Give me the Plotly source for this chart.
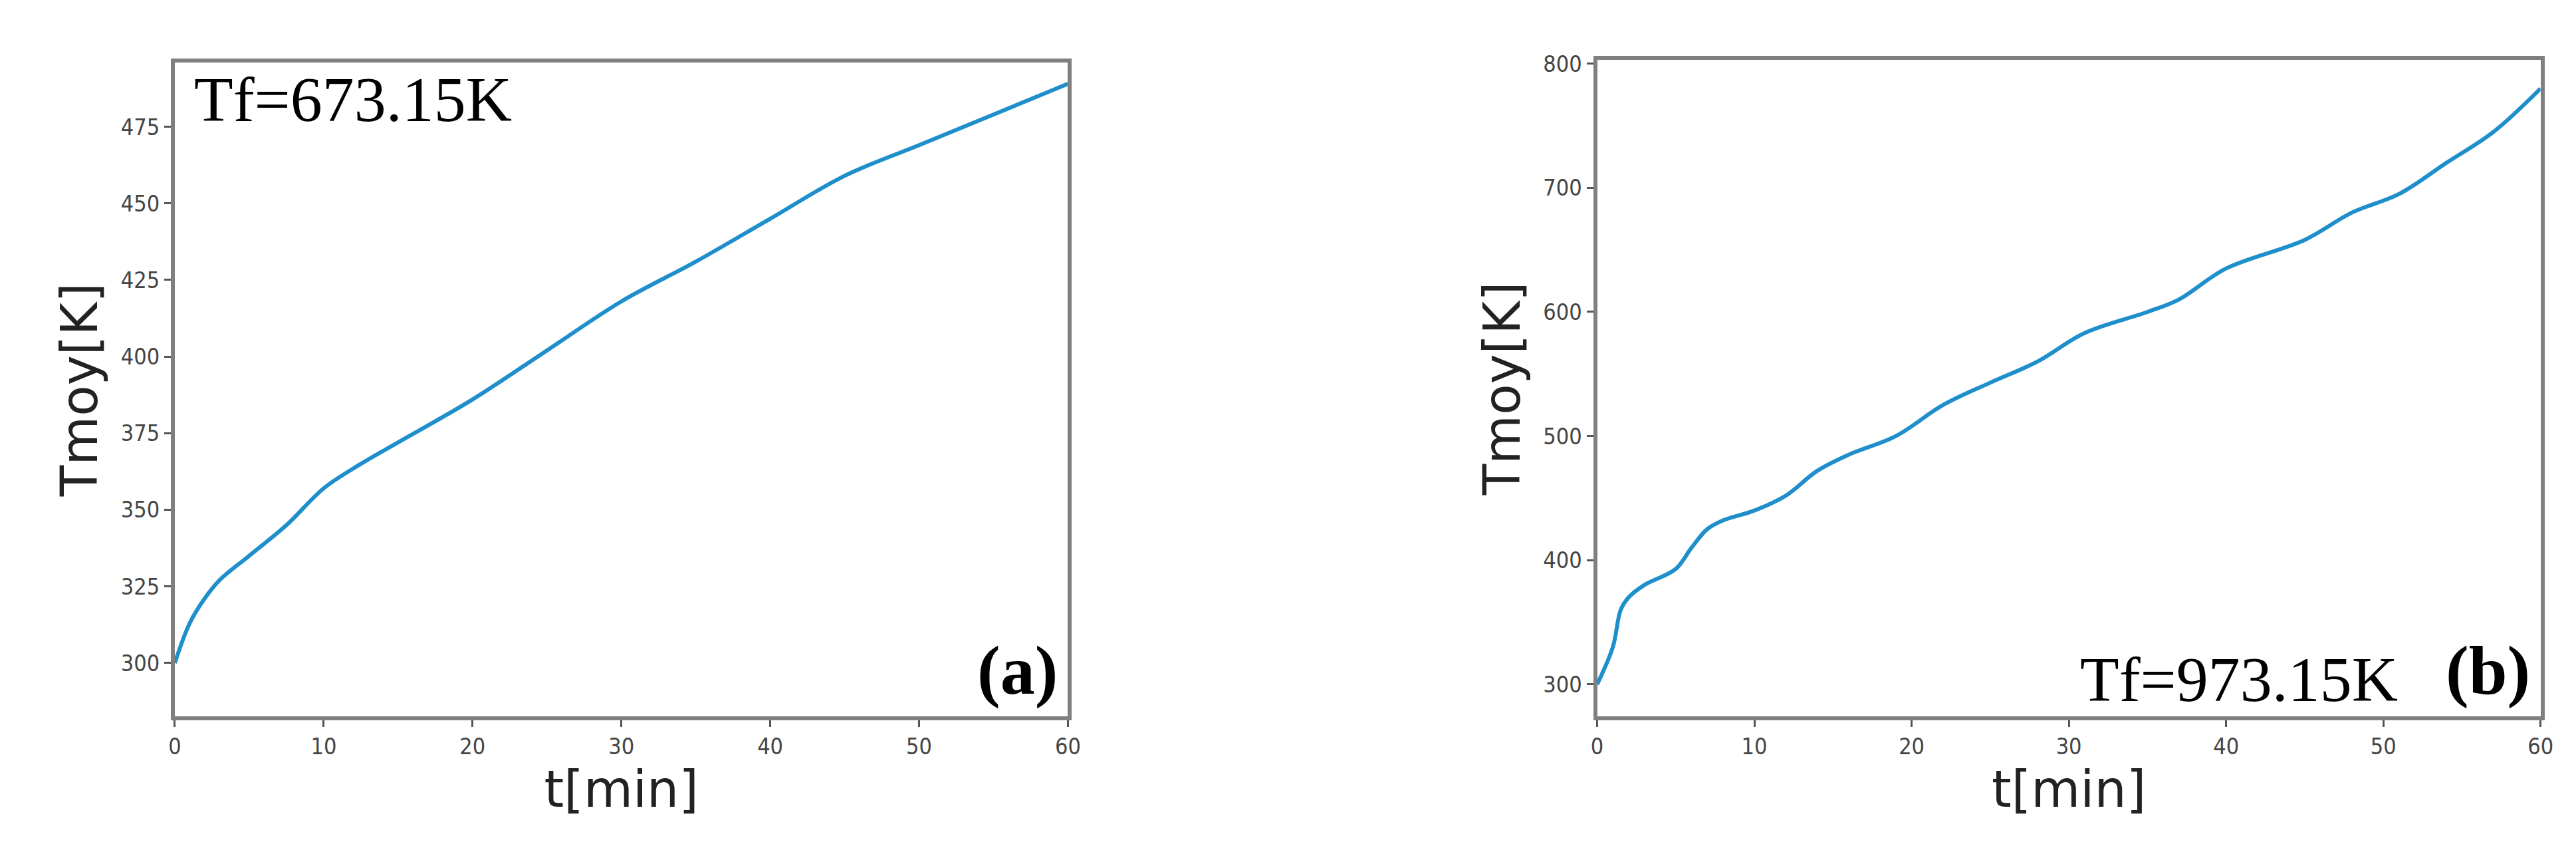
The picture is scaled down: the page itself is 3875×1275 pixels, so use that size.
import plotly.graph_objs as go
from plotly.subplots import make_subplots

# panel (a) Tf=673.15K
t_a = [0, 1, 2, 3, 5, 7.5, 10, 12.5, 15, 20, 25, 30, 35, 40, 45, 50, 55, 60]
T_a = [300, 313, 321, 327, 335, 345, 357, 365, 372, 386, 402, 418, 431, 445, 459, 469, 479, 489]

# panel (b) Tf=973.15K
t_b = [0, 1, 1.5, 2, 3, 5, 6, 7, 8, 10, 12, 14, 16, 19, 22, 25, 28, 31, 35, 37, 40, 45, 48, 51, 54, 57, 60]
T_b = [300, 330, 360, 370, 380, 393, 410, 425, 432, 440, 452, 472, 485, 500, 525, 543, 560, 583, 600, 610, 635, 658, 680, 695, 720, 745, 780]

a_ticks = [300, 325, 350, 375, 400, 425, 450, 475]
b_ticks = [300, 400, 500, 600, 700, 800]
x_ticks = [0, 10, 20, 30, 40, 50, 60]

fig = make_subplots(rows=1, cols=2)
fig.add_trace(go.Scatter(x=t_a, y=T_a, mode="lines", line=dict(color="#1f8fcc", width=6, shape="spline")), 1, 1)
fig.add_trace(go.Scatter(x=t_b, y=T_b, mode="lines", line=dict(color="#1f8fcc", width=6, shape="spline")), 1, 2)

axis_style = dict(showline=True, mirror=True, linecolor="#808080", linewidth=6,
                  ticks="outside", ticklen=10, tickwidth=3, tickcolor="#555",
                  showgrid=False, zeroline=False,
                  tickfont=dict(family="DejaVu Sans Condensed", size=34, color="#444"),
                  title_font=dict(family="DejaVu Sans", size=76, color="#222"))

fig.update_layout(
    width=3875, height=1275, showlegend=False,
    plot_bgcolor="white", paper_bgcolor="white",
    margin=dict(l=0, r=0, t=0, b=0),
    xaxis=dict(domain=[0.0637, 0.413], range=[0, 60], tickvals=x_ticks, title_text="t[min]", title_standoff=8, **axis_style),
    xaxis2=dict(domain=[0.620, 0.989], range=[0, 60], tickvals=x_ticks, title_text="t[min]", title_standoff=8, **axis_style),
    yaxis=dict(domain=[0.163, 0.943], range=[282.5, 496], tickvals=a_ticks, title_text="Tmoy[K]", title_standoff=12, **axis_style),
    yaxis2=dict(domain=[0.163, 0.946], range=[274, 803], tickvals=b_ticks, title_text="Tmoy[K]", title_standoff=12, **axis_style),
)

serif = dict(family="Liberation Serif", color="black")
fig.add_annotation(text="Tf=673.15K", xref="x domain", yref="y domain", x=0.02, y=1.0,
                   xanchor="left", yanchor="top", showarrow=False, font=dict(size=96, **serif))
fig.add_annotation(text="<b>(a)</b>", xref="x domain", yref="y domain", x=0.99, y=0.01,
                   xanchor="right", yanchor="bottom", showarrow=False, font=dict(size=104, **serif))
fig.add_annotation(text="Tf=973.15K", xref="x2 domain", yref="y2 domain", x=0.85, y=0.0,
                   xanchor="right", yanchor="bottom", showarrow=False, font=dict(size=96, **serif))
fig.add_annotation(text="<b>(b)</b>", xref="x2 domain", yref="y2 domain", x=0.99, y=0.01,
                   xanchor="right", yanchor="bottom", showarrow=False, font=dict(size=104, **serif))

fig.write_html("out.html")
